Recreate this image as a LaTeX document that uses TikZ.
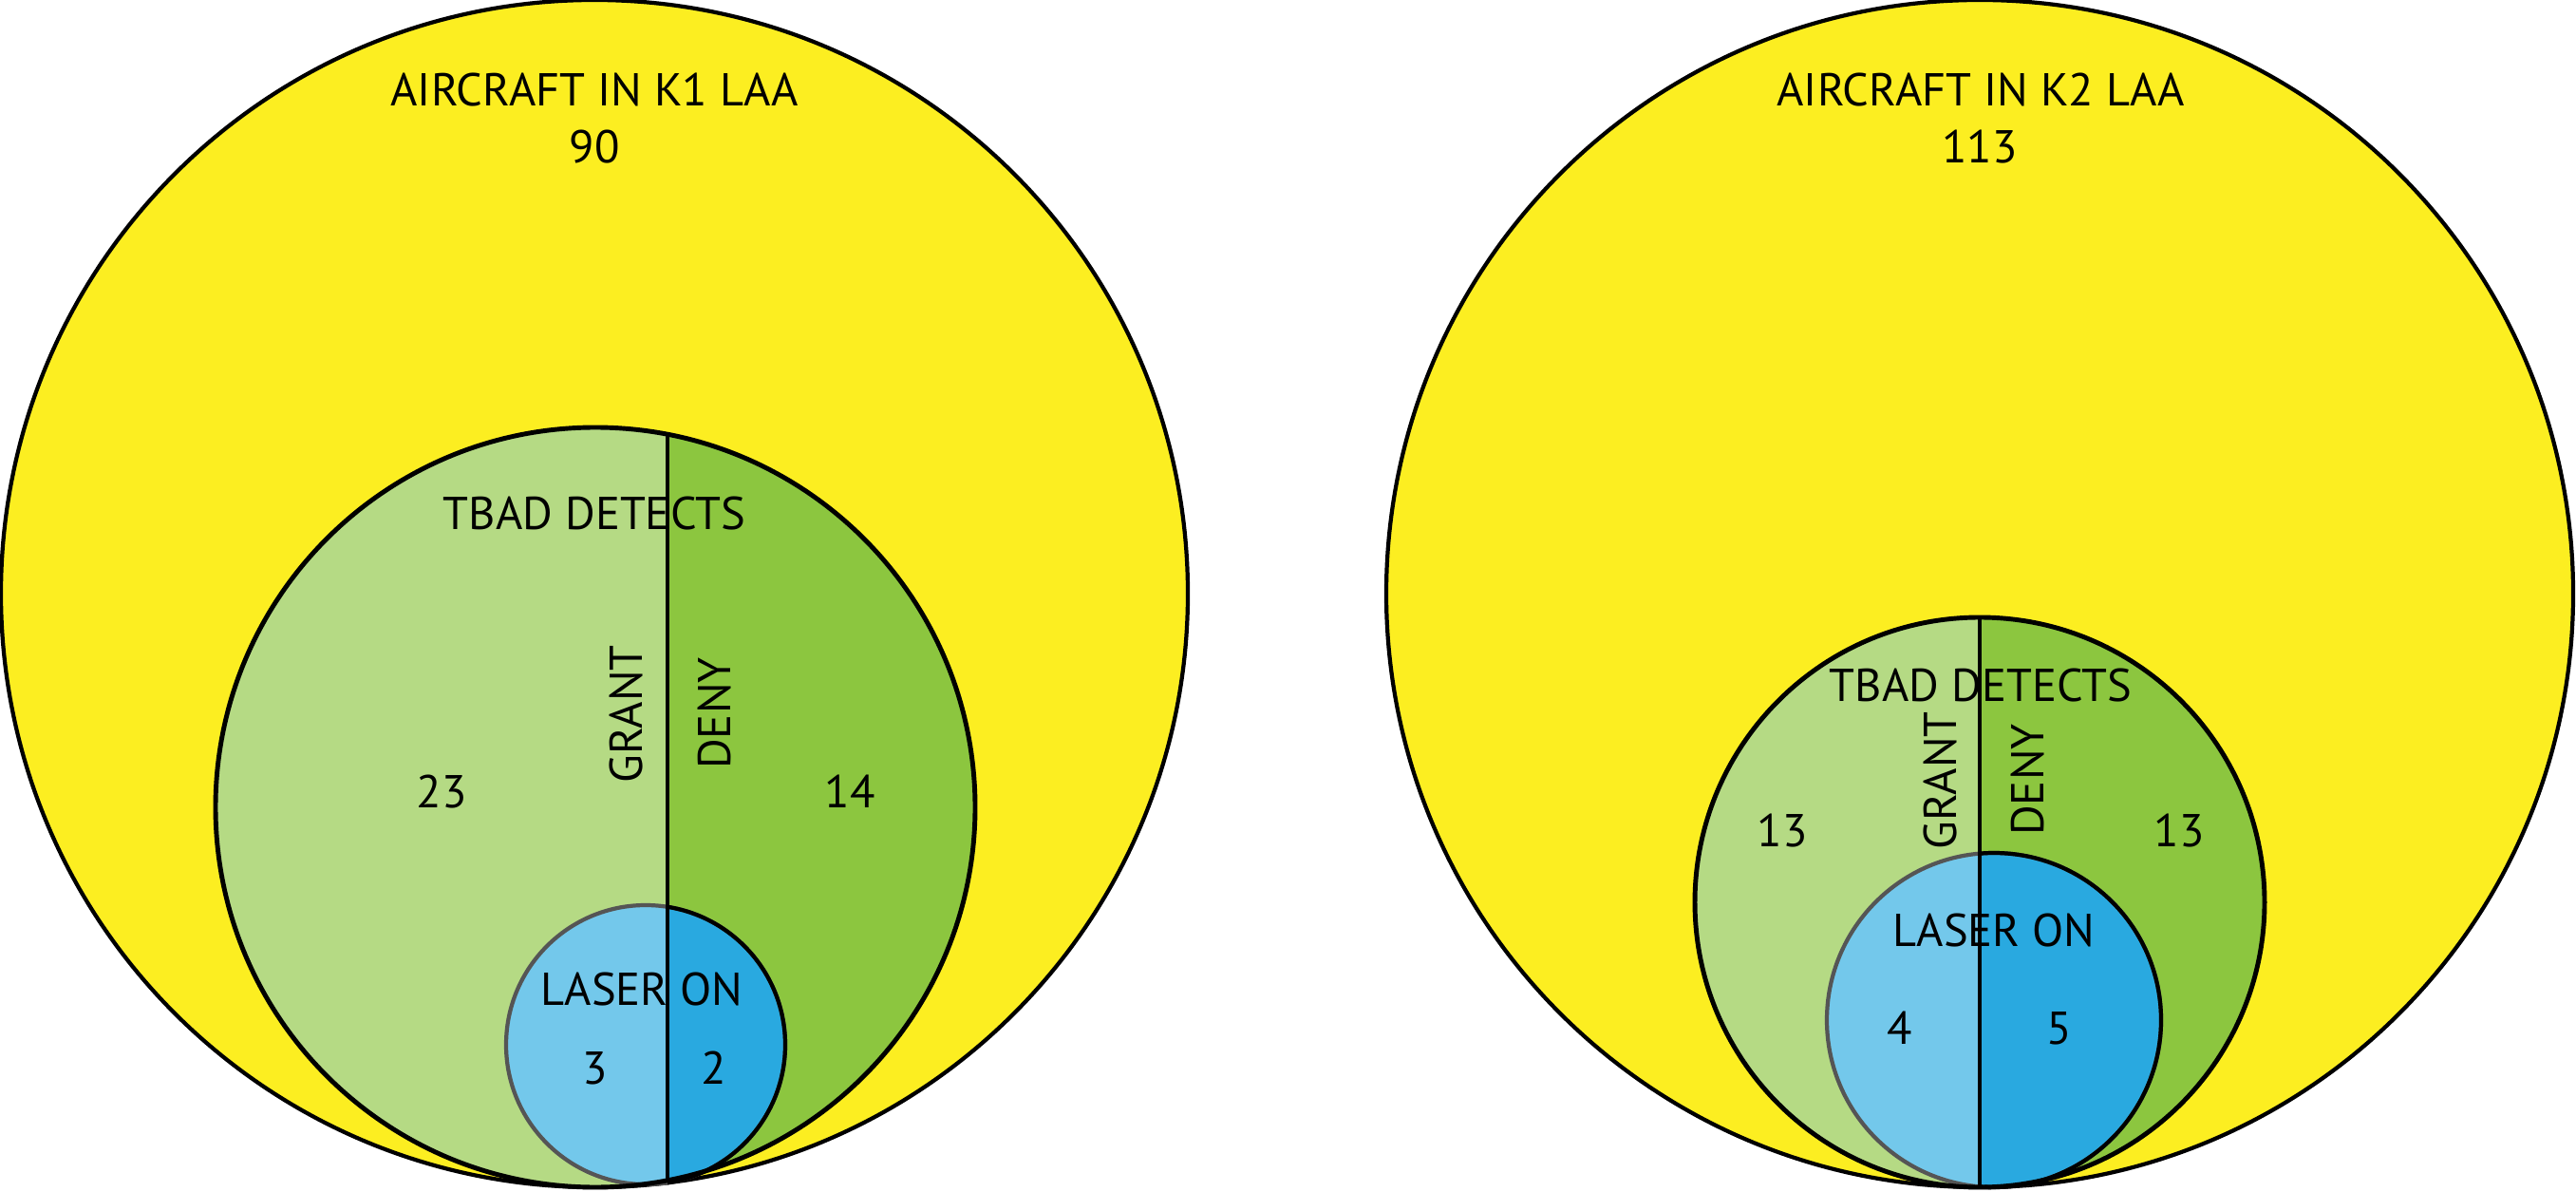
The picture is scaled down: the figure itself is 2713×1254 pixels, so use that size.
\documentclass[tikz,border=0pt]{standalone}
\usepackage{fontspec}
\setmainfont{PT Sans}
\usetikzlibrary{positioning}
\definecolor{laayellow}{HTML}{FCEE21}
\definecolor{grantgreen}{HTML}{B5DA84}
\definecolor{denygreen}{HTML}{8CC63F}
\definecolor{grantblue}{HTML}{73C8EB}
\definecolor{denyblue}{HTML}{29A9E0}
\definecolor{rimgray}{HTML}{555555}

\begin{document}
\begin{tikzpicture}[x=0.01cm,y=0.01cm,
  lbl/.style={font=\fontsize{13.8}{16}\selectfont,inner sep=0pt,anchor=base},
  sidelbl/.style={lbl,rotate=90,anchor=center},
  rim/.style={line width=1.2pt},
  tbadrim/.style={line width=1.4pt}]
  \useasboundingbox (0,0) rectangle (2713,1254);
  \coordinate (A1) at (626,629);
  \coordinate (T1) at (627,404);
  \coordinate (L1) at (680,154);
  \coordinate (A2) at (2085,629);
  \coordinate (T2) at (2085,304);
  \coordinate (L2) at (2100,180);
  % K1
  \filldraw[fill=laayellow,rim] (A1) circle[radius=625];
  \begin{scope}
    \clip (T1) circle[radius=400];
    \fill[grantgreen] (0,0) rectangle (703,1254);
    \fill[denygreen] (703,0) rectangle (1300,1254);
  \end{scope}
  \begin{scope}
    \clip (L1) circle[radius=147];
    \fill[grantblue] (0,0) rectangle (703,1254);
    \fill[denyblue] (703,0) rectangle (1300,1254);
  \end{scope}
  \draw[rim,rimgray] (L1) circle[radius=147];
  \begin{scope}
    \clip (703,0) rectangle (1300,1254);
    \draw[rim] (L1) circle[radius=147];
  \end{scope}
  \begin{scope}
    \clip (T1) circle[radius=400];
    \draw[rim] (703,0) -- (703,1254);
  \end{scope}
  \draw[tbadrim] (T1) circle[radius=400];
  % K2
  \filldraw[fill=laayellow,rim] (A2) circle[radius=625];
  \begin{scope}
    \clip (T2) circle[radius=300];
    \fill[grantgreen] (1400,0) rectangle (2085,1254);
    \fill[denygreen] (2085,0) rectangle (2713,1254);
  \end{scope}
  \begin{scope}
    \clip (L2) circle[radius=176];
    \fill[grantblue] (1400,0) rectangle (2085,1254);
    \fill[denyblue] (2085,0) rectangle (2713,1254);
  \end{scope}
  \draw[rim,rimgray] (L2) circle[radius=176];
  \begin{scope}
    \clip (2085,0) rectangle (2713,1254);
    \draw[rim] (L2) circle[radius=176];
  \end{scope}
  \begin{scope}
    \clip (T2) circle[radius=300];
    \draw[rim] (2085,0) -- (2085,1254);
  \end{scope}
  \draw[tbadrim] (T2) circle[radius=300];
  % labels K1
  \node[lbl] (title1) at (626,1142) {AIRCRAFT IN K1 LAA};
  \node[lbl] (total1) at (626,1082) {90};
  \node[lbl] (tbad1) at (626,696) {TBAD DETECTS};
  \node[sidelbl] (grant1) at (660,502) {GRANT};
  \node[sidelbl] (deny1) at (752,503) {DENY};
  \node[lbl] (ng1) at (465,404) {23};
  \node[lbl] (nd1) at (895,404) {14};
  \node[lbl] (laser1) at (676,196) {LASER ON};
  \node[lbl] (lg1) at (627,113) {3};
  \node[lbl] (ld1) at (752,113) {2};
  % labels K2
  \node[lbl] (title2) at (2086,1142) {AIRCRAFT IN K2 LAA};
  \node[lbl] (total2) at (2085,1082) {113};
  \node[lbl] (tbad2) at (2086,516) {TBAD DETECTS};
  \node[sidelbl] (grant2) at (2043,432) {GRANT};
  \node[sidelbl] (deny2) at (2135,433) {DENY};
  \node[lbl] (ng2) at (1877,363) {13};
  \node[lbl] (nd2) at (2295,363) {13};
  \node[lbl] (laser2) at (2100,258) {LASER ON};
  \node[lbl] (lg2) at (2001,155) {4};
  \node[lbl] (ld2) at (2169,155) {5};
\end{tikzpicture}
\end{document}
